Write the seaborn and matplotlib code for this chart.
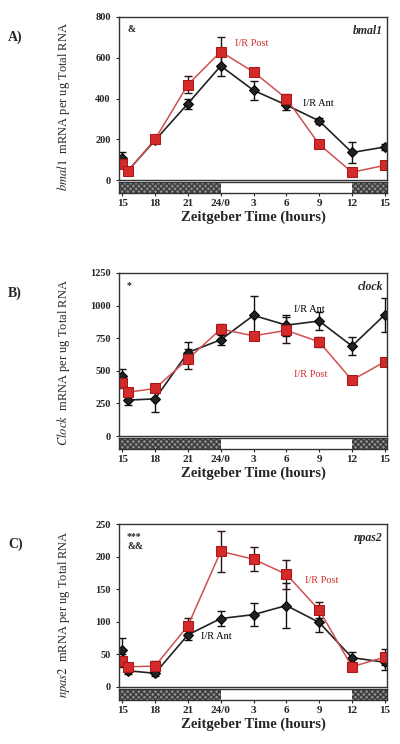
import matplotlib
matplotlib.use("Agg")
import matplotlib.pyplot as plt
import pandas as pd
import seaborn as sn

# zeitgeber time of each sample (15 -> 39 = one day)
zt = [15, 15.5, 18, 21, 24, 27, 30, 33, 36, 39]
zt_ticks = [15, 18, 21, 24, 27, 30, 33, 36, 39]
zt_labels = ['15', '18', '21', '24/0', '3', '6', '9', '12', '15']

bmal1_ant = [108, 45, 195, 375, 560, 440, 368, 290, 135, 162]
bmal1_ant_err = [30, 10, 15, 25, 50, 45, 25, 15, 50, 15]
bmal1_post = [78, 42, 200, 468, 630, 530, 400, 175, 38, 72]
bmal1_post_err = [20, 10, 15, 40, 70, 15, 20, 20, 10, 10]

clock_ant = [462, 275, 285, 640, 738, 925, 850, 882, 690, 930]
clock_ant_err = [50, 40, 100, 80, 40, 150, 80, 70, 70, 130]
clock_post = [410, 335, 365, 590, 820, 768, 810, 722, 428, 570]
clock_post_err = [40, 30, 20, 80, 40, 20, 100, 40, 30, 20]

npas2_ant = [57, 25, 21, 80, 105, 111, 125, 99, 45, 38]
npas2_ant_err = [18, 5, 4, 8, 12, 18, 35, 15, 8, 12]
npas2_post = [40, 31, 32, 94, 208, 196, 173, 118, 31, 46]
npas2_post_err = [10, 6, 8, 12, 32, 18, 22, 12, 5, 12]

RED = '#d42a2a'
SERIF = 'Liberation Serif'

sn.set_style('white')
plt.rcParams['font.family'] = [SERIF, 'DejaVu Serif']
plt.rcParams['mathtext.fontset'] = 'stix'

fig = plt.figure(figsize=(4, 7.44), dpi=100)
W, H = 400.0, 744.0


def px_axes(left, top, right, bottom):
    return fig.add_axes([left / W, 1 - bottom / H, (right - left) / W, (bottom - top) / H])


def Draw_Panel(top, letter, gene, ylab_gene, ant, ant_err, post, post_err,
               yticks, stars, ant_pos, post_pos):
    ax = px_axes(119, top, 387, top + 163)
    bar = px_axes(119, top + 165, 387, top + 176)
    xlim = (14.7, 39.2)

    ant_df = pd.DataFrame({'zt': zt, 'value': ant})
    post_df = pd.DataFrame({'zt': zt, 'value': post})
    ax.errorbar(zt, ant, yerr=ant_err, fmt='none', ecolor='#111111', elinewidth=1, capsize=3)
    ax.errorbar(zt, post, yerr=post_err, fmt='none', ecolor='#2a1414', elinewidth=1, capsize=3)
    sn.lineplot(data=ant_df, x='zt', y='value', color='#222222', marker='D',
                markersize=5, markeredgecolor='black', linewidth=1.2, ax=ax)
    sn.lineplot(data=post_df, x='zt', y='value', color='#d05050', marker='s',
                markersize=7.5, markerfacecolor=RED, markeredgecolor='#a81818',
                linewidth=1.1, ax=ax)

    ax.set_xlim(*xlim)
    ax.set_ylim(yticks[0], yticks[-1])
    ax.set_yticks(yticks)
    ax.set_yticklabels([str(v) for v in yticks], fontsize=7.5, fontweight='bold')
    ax.set_xticks([])
    ax.set_xlabel('')
    ax.tick_params(axis='y', direction='out', length=2, pad=4, left=True)
    for s in ax.spines.values():
        s.set_color('#333333')
        s.set_linewidth(1)
    ax.set_ylabel(r'$\it{' + ylab_gene + r'}$' + '  mRNA per ug Total RNA',
                  fontsize=9)
    ax.yaxis.set_label_coords(-0.175, 0.45)

    ax.text(0.985, 0.95, gene, transform=ax.transAxes, ha='right', va='top',
            fontsize=8.5, fontweight='bold', fontstyle='italic')
    ax.text(0.03, 0.95, stars, transform=ax.transAxes, ha='left', va='top',
            fontsize=7, fontweight='bold', linespacing=1.1)
    ax.text(ant_pos[0], ant_pos[1], 'I/R Ant', fontsize=7.5, color='black')
    ax.text(post_pos[0], post_pos[1], 'I/R Post', fontsize=7.5, color=RED)

    fig.text(8 / W, 1 - (top + 20) / H, letter, fontsize=10, fontweight='bold',
             ha='left', va='center')

    # light / dark bar
    bar.set_xlim(*xlim)
    bar.set_ylim(0, 1)
    bar.axvspan(xlim[0], 24, facecolor='#8c8c8c', edgecolor='#3a3a3a', hatch='xxxxxx', lw=0)
    bar.axvspan(36, xlim[1], facecolor='#8c8c8c', edgecolor='#3a3a3a', hatch='xxxxxx', lw=0)
    bar.set_yticks([])
    bar.set_xticks(zt_ticks)
    bar.set_xticklabels(zt_labels, fontsize=8, fontweight='bold')
    bar.tick_params(axis='x', direction='out', length=2, pad=2, bottom=True)
    for s in bar.spines.values():
        s.set_color('#333333')
        s.set_linewidth(1)
    bar.set_xlabel('Zeitgeber Time (hours)', fontsize=10.5, fontweight='bold', labelpad=2)


Draw_Panel(17, 'A)', 'bmal1', 'bmal1', bmal1_ant, bmal1_ant_err, bmal1_post, bmal1_post_err,
           [0, 200, 400, 600, 800], '&', (31.5, 365), (25.3, 660))
Draw_Panel(273, 'B)', 'clock', 'Clock', clock_ant, clock_ant_err, clock_post, clock_post_err,
           [0, 250, 500, 750, 1000, 1250], '*', (30.7, 950), (30.7, 455))
Draw_Panel(524, 'C)', 'npas2', 'npas2', npas2_ant, npas2_ant_err, npas2_post, npas2_post_err,
           [0, 50, 100, 150, 200, 250], '***\n&&', (22.2, 74), (31.7, 160))

plt.savefig('out.png', dpi=100)
